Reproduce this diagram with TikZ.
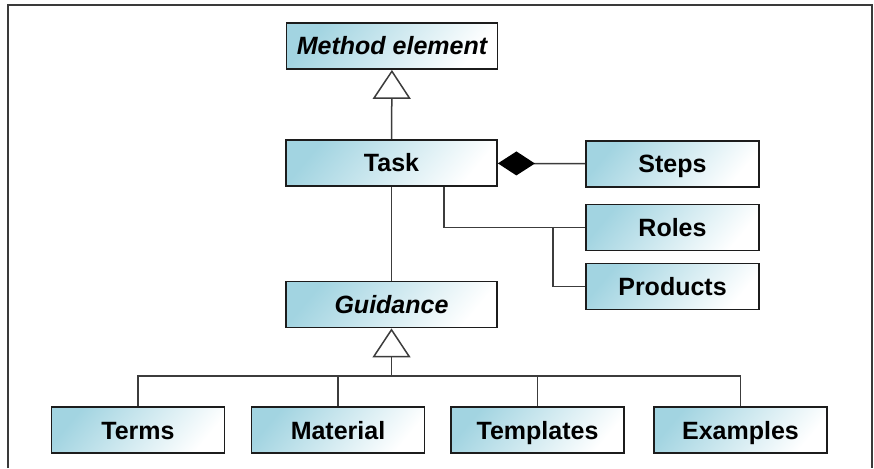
\documentclass[tikz,border=0pt]{standalone}
\usepackage{fontspec}
\setsansfont{Liberation Sans}
\usetikzlibrary{arrows.meta,positioning}
\definecolor{UMLBlue}{HTML}{A2D4E1}
\definecolor{UMLInk}{HTML}{1C1C1C}
\definecolor{UMLLine}{HTML}{3C3C3C}
\definecolor{UMLFrame}{HTML}{3A3A3A}

\begin{document}
\begin{tikzpicture}[
    x=1pt,y=1pt,font=\sffamily\bfseries\fontsize{25}{30}\selectfont,
    cls/.style={draw=UMLInk,line width=1.8pt,left color=UMLBlue,right color=white,
      shading angle=50,minimum height=46pt,inner sep=0pt,text height=18pt,text depth=0pt},
    wide/.style={cls,minimum width=211pt},
    narrow/.style={cls,minimum width=173pt},
    abstract/.style={font=\sffamily\bfseries\itshape\fontsize{25}{30}\selectfont},
    link/.style={draw=UMLLine,line width=1.5pt},
    gen/.style={link,-{Triangle[open,length=29pt,width=38pt,fill=white]}},
    comp/.style={link,-{Diamond[length=37pt,width=24pt,color=black]}}
  ]
    \useasboundingbox (0,0) rectangle (874,468);
    \draw[UMLFrame,line width=1.8pt] (8,0) -- (8,463) -- (872,463) -- (872,0);

    % main column
    \node[wide,abstract] (method) at (392,422) {Method element};
    \node[wide] (task) at (391.5,305) {Task};
    \node[wide,abstract] (guidance) at (391.5,163.5) {Guidance};

    % parts of a task
    \node[narrow] (steps) at (672.5,304) {Steps};
    \node[narrow] (roles) at (672.5,240.5) {Roles};
    \node[narrow] (products) at (672.5,181.5) {Products};

    % kinds of guidance
    \node[narrow] (terms) at (138,38) {Terms};
    \node[narrow] (material) at (338,38) {Material};
    \node[narrow] (templates) at (537.5,38) {Templates};
    \node[narrow] (examples) at (740.5,38) {Examples};

    \draw[gen] (task) -- (method);
    \draw[link] (task) -- (guidance);
    \draw[comp] (steps) -- (task);

    \coordinate (taskleg) at (444,241);
    \coordinate (prodleg) at (553,241);
    \draw[link] (task.south -| taskleg) |- (roles);
    \draw[link] (prodleg) |- (products);

    \coordinate (bus) at (391.5,92);
    \draw[gen] (bus) -- (guidance);
    \draw[link] (terms) |- (bus) -| (examples);
    \draw[link] (material) -- (material |- bus);
    \draw[link] (templates) -- (templates |- bus);
  \end{tikzpicture}
\end{document}
